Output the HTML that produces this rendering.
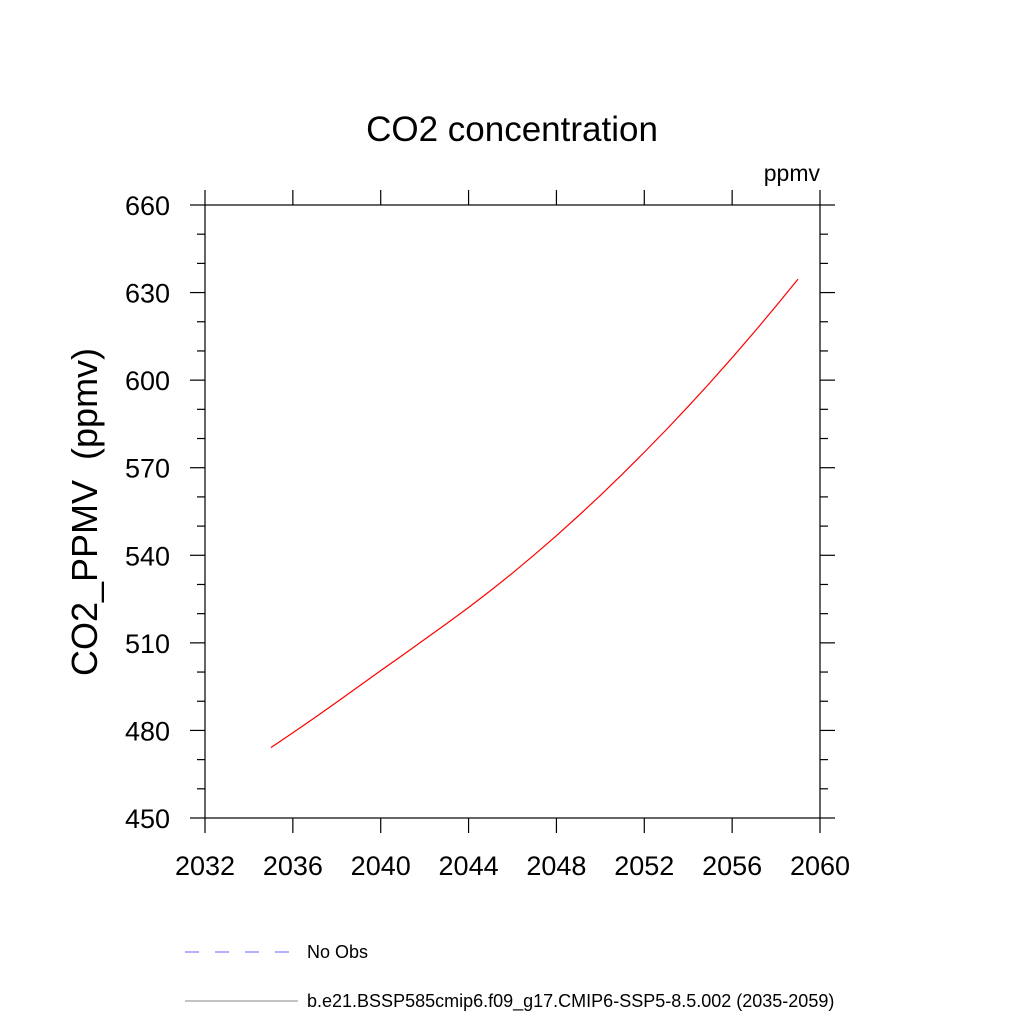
<!DOCTYPE html>
<html><head><meta charset="utf-8"><style>
body{margin:0;background:#fff}
svg{display:block;font-family:"Liberation Sans",sans-serif}
</style></head><body>
<svg id="c" width="1024" height="1024">
<text x="512" y="141" font-size="35" text-anchor="middle">CO2 concentration</text>
<text x="820" y="181" font-size="23" text-anchor="end">ppmv</text>
<text transform="translate(97,512) rotate(-90)" font-size="36" text-anchor="middle">CO2_PPMV&#160;&#160;(ppmv)</text>
<rect x="205" y="205" width="615" height="613" fill="none" stroke="#000" stroke-width="1.2"/>
<g id="ticks"></g>
<g id="series"></g>
<line x1="185" y1="952" x2="292" y2="952" stroke="#6060ff" stroke-width="1" stroke-dasharray="14,16"/>
<text x="307" y="958" font-size="18">No Obs</text>
<line x1="185" y1="1001" x2="298" y2="1001" stroke="#888" stroke-width="1"/>
<text x="307" y="1007" font-size="18">b.e21.BSSP585cmip6.f09_g17.CMIP6-SSP5-8.5.002 (2035-2059)</text>
</svg>
<script>
const years=[2035,2036,2037,2038,2039,2040,2041,2042,2043,2044,2045,2046,2047,2048,2049,2050,2051,2052,2053,2054,2055,2056,2057,2058,2059];
const co2=[474.1,479.2,484.4,489.7,495.1,500.5,505.8,511.2,516.6,522.1,527.9,533.9,540.2,546.7,553.5,560.5,567.8,575.3,583.0,591.0,599.2,607.7,616.4,625.4,634.6];
const xTicks=[2032,2036,2040,2044,2048,2052,2056,2060];
const yTicks=[450,480,510,540,570,600,630,660];
const yMinor=[460,470,490,500,520,530,550,560,580,590,610,620,640,650];
const X0=205,X1=820,Y0=818,Y1=205;
const sx=v=>X0+(v-2032)/(2060-2032)*(X1-X0);
const sy=v=>Y0-(v-450)/(660-450)*(Y0-Y1);
const NS="http://www.w3.org/2000/svg";
const tg=document.getElementById('ticks');
function ln(x1,y1,x2,y2,name){const l=document.createElementNS(NS,'line');l.setAttribute('x1',x1);l.setAttribute('y1',y1);l.setAttribute('x2',x2);l.setAttribute('y2',y2);l.setAttribute('stroke','#000');l.setAttribute('stroke-width','1.2');


tg.appendChild(l);}
function tx(x,y,s,anchor,name){const t=document.createElementNS(NS,'text');t.setAttribute('x',x);t.setAttribute('y',y);t.setAttribute('font-size','27');t.setAttribute('text-anchor',anchor);t.textContent=s;


tg.appendChild(t);}
xTicks.forEach(v=>{const x=sx(v);ln(x,Y0,x,Y0+15,'x-tick');ln(x,Y1,x,Y1-15,'x-tick-top');tx(x,Y0+57,v,'middle','x-tick-label');});
yTicks.forEach(v=>{const y=sy(v);ln(X0-15,y,X0,y,'y-tick');ln(X1,y,X1+15,y,'y-tick-right');tx(X0-35,y+10,v,'end','y-tick-label');});
yMinor.forEach(v=>{const y=sy(v);ln(X0-8,y,X0,y,'y-minor-tick');ln(X1,y,X1+8,y,'y-minor-tick-right');});
const p=document.createElementNS(NS,'polyline');
p.setAttribute('points',years.map((y,i)=>sx(y)+','+sy(co2[i])).join(' '));
p.setAttribute('fill','none');p.setAttribute('stroke','#ff0000');p.setAttribute('stroke-width','1.2');


document.getElementById('series').appendChild(p);
</script>
</body></html>
